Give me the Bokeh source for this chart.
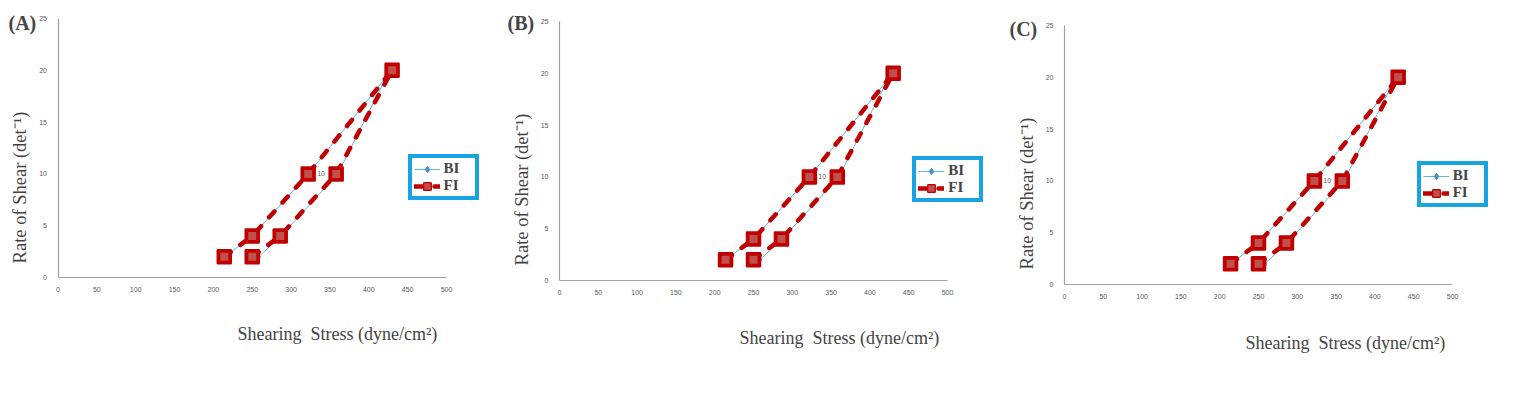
from math import pi
from bokeh.plotting import figure
from bokeh.layouts import row
from bokeh.models import Range1d, Label, Legend, LegendItem, LinearAxis, FixedTicker
from bokeh.embed import file_html
from bokeh.resources import INLINE

# ---------------- data ----------------
panel_letters = ["(A)", "(B)", "(C)"]
x_ticks = [0, 50, 100, 150, 200, 250, 300, 350, 400, 450, 500]
y_ticks = [0, 5, 10, 15, 20, 25]
series_names = ["BI", "FI"]
bi_x = [214, 250, 322, 423, 360, 287, 258]
bi_y = [2, 4, 10, 19.4, 10, 4, 2]
fi_x = [214, 250, 322, 430, 358, 286, 250]
fi_y = [2, 4, 10, 20, 10, 4, 2]
label_index = 2
y_title = "Rate of Shear (det\u207b\u00b9)"
x_title = "Shearing\u00a0 Stress (dyne/cm\u00b2)"
X_MAX = 500
Y_MAX = 25

# ---------------- layout (pixels inside each panel, from its top-left) ----------------
H = 390
fig_widths = [500, 500, 500]
plot_boxes = [(57.5, 446, 18, 277), (59, 447, 21, 280), (64, 452, 25, 284)]  # left,right,top,bottom
letter_pos = [(8, 22), (7, 22), (9, 28)]
ytitle_pos = [(19, 187), (21.5, 189), (26, 193)]
xtitle_pos = [(237, 333), (239, 337), (245, 342)]
legend_box = [(407.5, 200), (412.3, 202), (416.7, 207)]  # left, bottom

BLUE_LINE = "#5BB5E6"
BLUE_MARK = "#3F8FD2"
RED = "#C00000"
RED_IN = "#C0504D"
SERIF = "Liberation Serif"


def make_panel(i):
    W = fig_widths[i]
    L, R, T, B = plot_boxes[i]
    sx = (R - L) / X_MAX
    sy = (B - T) / Y_MAX
    p = figure(x_range=Range1d(-L / sx, X_MAX + (W - R) / sx),
               y_range=Range1d(-(H - B) / sy, Y_MAX + T / sy),
               frame_width=W, frame_height=H, min_border=0,
               x_axis_type=None, y_axis_type=None,
               output_backend="svg", toolbar_location=None)
    p.outline_line_color = None
    p.grid.grid_line_color = None
    p.background_fill_color = "white"
    p.border_fill_color = "white"

    xax = LinearAxis(fixed_location=0, bounds=(0, X_MAX), ticker=FixedTicker(ticks=x_ticks))
    yax = LinearAxis(fixed_location=0, bounds=(0, Y_MAX), ticker=FixedTicker(ticks=y_ticks))
    for ax in (xax, yax):
        ax.axis_line_color = "#A0A0A0"
        ax.axis_line_width = 1.2
        ax.major_tick_line_color = None
        ax.minor_tick_line_color = None
        ax.major_label_text_font = "Liberation Sans"
        ax.major_label_text_font_size = "7px"
        ax.major_label_text_color = "#595959"
    xax.major_label_standoff = 3
    yax.major_label_standoff = 5
    p.add_layout(xax, "below")
    p.add_layout(yax, "left")

    bi_line = p.line(bi_x, bi_y, line_color=BLUE_LINE, line_width=1)
    bi_mark = p.scatter(bi_x, bi_y, marker="diamond", size=6,
                        fill_color=BLUE_MARK, line_color=BLUE_MARK)
    fi_line = p.line(fi_x, fi_y, line_color=RED, line_width=4.5,
                     line_dash="8 12", line_cap="round")
    fi_out = p.scatter(fi_x, fi_y, marker="square", size=13, fill_color=RED,
                       line_color=RED, line_width=2.5, line_join="round")
    fi_in = p.scatter(fi_x, fi_y, marker="square", size=8, fill_color=RED_IN,
                      line_color=None)

    p.add_layout(Label(x=fi_x[label_index], y=fi_y[label_index],
                       text=str(fi_y[label_index]), x_offset=9,
                       text_baseline="middle", text_font="Liberation Sans",
                       text_font_size="7px", text_color="#595959"))

    lx, ly = letter_pos[i]
    p.add_layout(Label(x=lx, y=H - ly, x_units="screen", y_units="screen",
                       text=panel_letters[i], text_font=SERIF,
                       text_font_style="bold", text_font_size="20px",
                       text_baseline="middle", text_align="left"))
    yx, yy = ytitle_pos[i]
    p.add_layout(Label(x=yx, y=H - yy, x_units="screen", y_units="screen",
                       text=y_title, angle=pi / 2, text_font=SERIF,
                       text_font_size="18.5px", text_align="center",
                       text_baseline="middle"))
    xx, xy = xtitle_pos[i]
    p.add_layout(Label(x=xx, y=H - xy, x_units="screen", y_units="screen",
                       text=x_title, text_font=SERIF, text_font_size="18px",
                       text_align="left", text_baseline="middle"))

    gx, gy = legend_box[i]
    legend = Legend(items=[LegendItem(label=series_names[0], renderers=[bi_line, bi_mark]),
                           LegendItem(label=series_names[1], renderers=[fi_line, fi_out, fi_in])],
                    location=(gx, H - gy),
                    border_line_color="#18A4E2", border_line_width=4,
                    border_line_alpha=1,
                    background_fill_color="white", background_fill_alpha=1,
                    padding=2, spacing=0, margin=0,
                    glyph_width=26, glyph_height=16, label_height=16,
                    label_width=29, label_standoff=4,
                    label_text_font=SERIF, label_text_font_style="bold",
                    label_text_font_size="15px")
    p.add_layout(legend, "center")
    return p


panels = [make_panel(i) for i in range(3)]
layout = row(*panels, spacing=0)
open("out.html", "w").write(file_html(layout, INLINE))
